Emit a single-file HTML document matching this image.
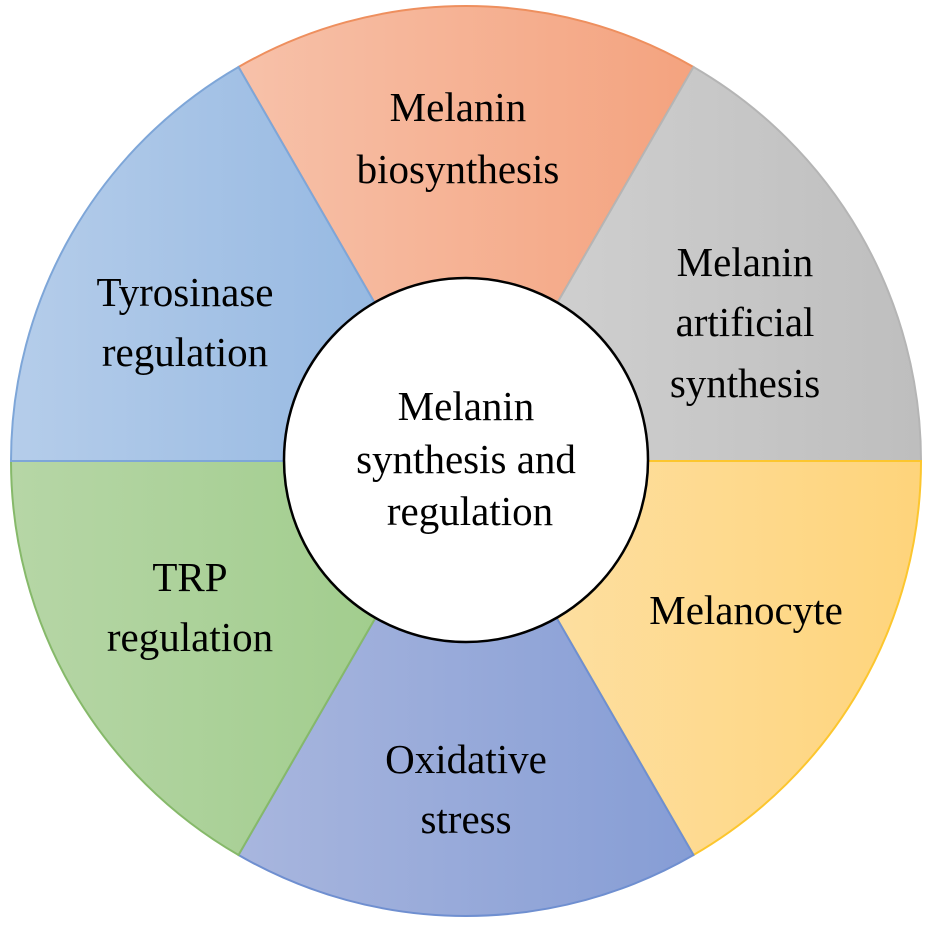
<!DOCTYPE html>
<html><head><meta charset="utf-8"><style>html,body{margin:0;padding:0;background:#fff}svg{display:block}</style></head>
<body>
<svg width="931" height="925" viewBox="0 0 931 925" xmlns="http://www.w3.org/2000/svg">
<defs>
<linearGradient id="gO" x1="0" x2="1" y1="0" y2="0"><stop offset="0" stop-color="#f7c1a9"/><stop offset="1" stop-color="#f4a37f"/></linearGradient>
<linearGradient id="gG" x1="0" x2="1" y1="0" y2="0"><stop offset="0" stop-color="#d3d3d3"/><stop offset="1" stop-color="#bebebe"/></linearGradient>
<linearGradient id="gY" x1="0" x2="1" y1="0" y2="0"><stop offset="0" stop-color="#fde1a8"/><stop offset="1" stop-color="#fed47b"/></linearGradient>
<linearGradient id="gP" x1="0" x2="1" y1="0" y2="0"><stop offset="0" stop-color="#a8b6de"/><stop offset="1" stop-color="#869dd5"/></linearGradient>
<linearGradient id="gN" x1="0" x2="1" y1="0" y2="0"><stop offset="0" stop-color="#b6d6a6"/><stop offset="1" stop-color="#9dcb88"/></linearGradient>
<linearGradient id="gB" x1="0" x2="1" y1="0" y2="0"><stop offset="0" stop-color="#b5cdea"/><stop offset="1" stop-color="#8fb4e0"/></linearGradient>
</defs>
<g stroke-width="2">
<path d="M466 461 L238.5 67 A455 455 0 0 1 693.5 67 Z" fill="url(#gO)" stroke="#ee8f5e"/>
<path d="M466 461 L693.5 67 A455 455 0 0 1 921 461 Z" fill="url(#gG)" stroke="#b5b5b5"/>
<path d="M466 461 L921 461 A455 455 0 0 1 693.5 855 Z" fill="url(#gY)" stroke="#fcc62e"/>
<path d="M466 461 L693.5 855 A455 455 0 0 1 238.5 855 Z" fill="url(#gP)" stroke="#6f8fd0"/>
<path d="M466 461 L238.5 855 A455 455 0 0 1 11 461 Z" fill="url(#gN)" stroke="#86b96a"/>
<path d="M466 461 L11 461 A455 455 0 0 1 238.5 67 Z" fill="url(#gB)" stroke="#7ea6d8"/>
</g>
<circle cx="466" cy="460" r="182" fill="#fff" stroke="#000" stroke-width="2.5"/>
<g style="font-family:'Liberation Serif',serif" font-size="41" text-anchor="middle" fill="#000">
<text x="458" y="121">Melanin</text>
<text x="458" y="183">biosynthesis</text>
<text x="745" y="276">Melanin</text>
<text x="745" y="336">artificial</text>
<text x="745" y="397">synthesis</text>
<text x="746" y="624">Melanocyte</text>
<text x="466" y="773">Oxidative</text>
<text x="466" y="833">stress</text>
<text x="190" y="591">TRP</text>
<text x="190" y="651">regulation</text>
<text x="185" y="306">Tyrosinase</text>
<text x="185" y="366">regulation</text>
<text x="466" y="420">Melanin</text>
<text x="466" y="473">synthesis and</text>
<text x="470" y="525">regulation</text>
</g>
</svg>
</body></html>
